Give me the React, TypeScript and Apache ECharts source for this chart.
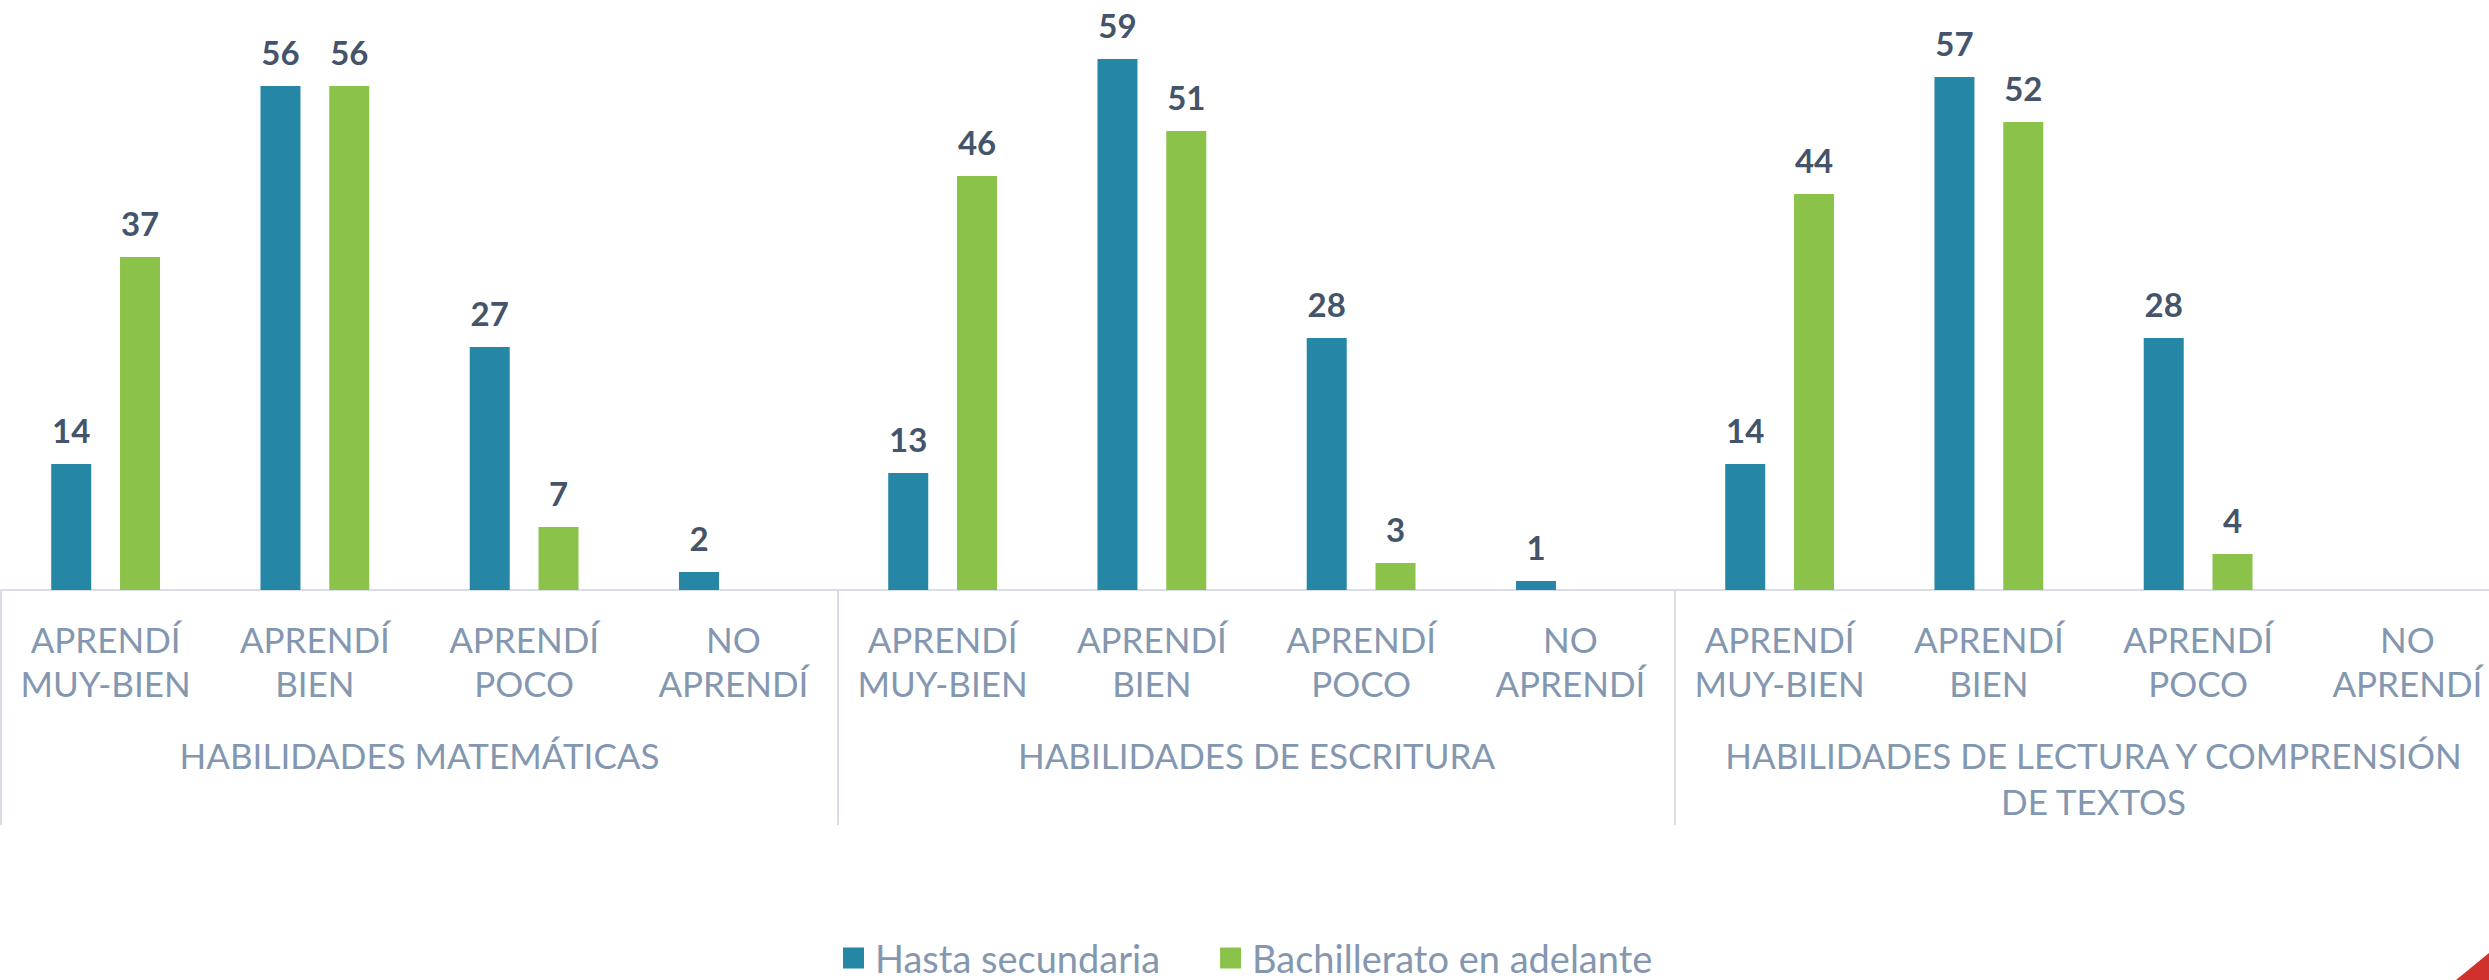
import React, { useEffect, useRef } from "react";
import * as echarts from "echarts";

const levels = ["APRENDÍ\nMUY-BIEN", "APRENDÍ\nBIEN", "APRENDÍ\nPOCO", "NO\nAPRENDÍ"];
const groups = [
  "HABILIDADES MATEMÁTICAS",
  "HABILIDADES DE ESCRITURA",
  "HABILIDADES DE LECTURA Y COMPRENSIÓN\nDE TEXTOS",
];
const categories = groups.flatMap(() => levels);
const seriesNames = ["Hasta secundaria", "Bachillerato en adelante"];
const hastaSecundaria = [14, 56, 27, 2, 13, 59, 28, 1, 14, 57, 28, null];
const bachillerato = [37, 56, 7, null, 46, 51, 3, null, 44, 52, 4, null];

const BLUE = "#2586A6";
const GREEN = "#8BC34A";
const LABEL = "#44546A";
const AXIS_TEXT = "#8497B0";
const LINE = "#D9DEE6";
const FONT = "Lato";

export default function App() {
  const ref = useRef<HTMLDivElement>(null);
  useEffect(() => {
    if (!ref.current) return;
    const chart = echarts.init(ref.current, null, { renderer: "svg" });
    const valueLabel = {
      show: true,
      position: "top",
      distance: 18,
      color: LABEL,
      fontFamily: FONT,
      fontWeight: "bold",
      fontSize: 33,
    };
    chart.setOption({
      animation: false,
      backgroundColor: "#FFFFFF",
      grid: { left: 1, top: 5, width: 2511, height: 585, containLabel: false },
      legend: {
        data: seriesNames,
        left: 838,
        top: 934,
        icon: "rect",
        itemWidth: 21,
        itemHeight: 21,
        itemGap: 60,
        textStyle: {
          color: AXIS_TEXT,
          fontFamily: FONT,
          fontSize: 38,
          lineHeight: 38,
          padding: [0, 0, 0, 6],
        },
      },
      xAxis: [
        {
          type: "category",
          data: categories,
          position: "bottom",
          axisLine: { show: true, lineStyle: { color: LINE, width: 2 } },
          axisTick: { show: false },
          axisLabel: {
            interval: 0,
            margin: 27,
            verticalAlign: "top",
            lineHeight: 44,
            color: AXIS_TEXT,
            fontFamily: FONT,
            fontSize: 35,
          },
        },
        {
          type: "category",
          data: groups,
          position: "bottom",
          axisLine: { show: false },
          axisTick: {
            show: true,
            length: 235,
            interval: 0,
            lineStyle: { color: LINE, width: 2 },
          },
          axisLabel: {
            interval: 0,
            margin: 142,
            verticalAlign: "top",
            lineHeight: 46,
            color: AXIS_TEXT,
            fontFamily: FONT,
            fontSize: 35,
          },
        },
      ],
      yAxis: {
        type: "value",
        min: 0,
        max: 65,
        show: false,
        splitLine: { show: false },
      },
      series: [
        {
          name: seriesNames[0],
          type: "bar",
          xAxisIndex: 0,
          data: hastaSecundaria,
          barWidth: 40,
          barGap: "72%",
          itemStyle: { color: BLUE },
          label: valueLabel,
        },
        {
          name: seriesNames[1],
          type: "bar",
          xAxisIndex: 0,
          data: bachillerato,
          barWidth: 40,
          barGap: "72%",
          itemStyle: { color: GREEN },
          label: valueLabel,
        },
      ],
      graphic: [
        {
          type: "polygon",
          shape: { points: [[2456, 980], [2489, 953], [2489, 980]] },
          style: { fill: "#D0312D" },
          silent: true,
        },
      ],
    });
    return () => chart.dispose();
  }, []);
  return (
    <div
      style={{
        position: "absolute",
        left: 0,
        top: 0,
        width: 2489,
        height: 980,
        overflow: "hidden",
      }}
    >
      <div ref={ref} style={{ width: 2520, height: 980 }} />
    </div>
  );
}
